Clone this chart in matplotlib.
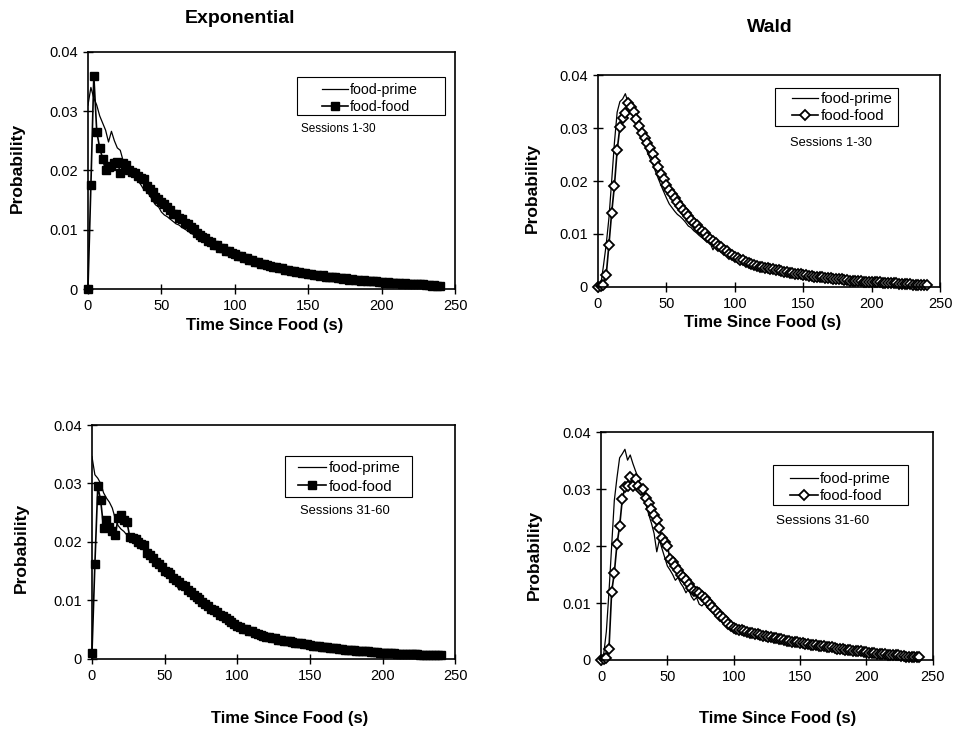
import matplotlib
matplotlib.use("Agg")
import matplotlib.pyplot as plt
from matplotlib.patches import Rectangle
from matplotlib.ticker import FuncFormatter

plt.rcParams['font.family'] = ['Liberation Sans', 'DejaVu Sans']

# time since food (s), 2 s bins
t = list(range(0, 242, 2))

# probabilities in units of 1e-4
exp_s1_prime = [310, 340, 322, 310, 292, 280, 268, 248, 266, 250,
                238, 234, 216, 206, 200, 194, 190, 183, 176, 168,
                165, 158, 150, 142, 139, 130, 125, 122, 118, 114,
                110, 108, 104, 101, 98, 94, 92, 88, 85, 83,
                80, 78, 75, 72, 70, 68, 65, 63, 61, 58,
                57, 56, 53, 52, 50, 48, 47, 45, 44, 42,
                41, 39, 38, 37, 35, 35, 33, 32, 31, 30,
                29, 29, 27, 27, 26, 25, 24, 23, 23, 22,
                21, 21, 20, 19, 19, 18, 17, 17, 16, 16,
                15, 15, 14, 14, 13, 13, 13, 12, 12, 11,
                11, 11, 10, 10, 10, 9, 9, 9, 8, 8,
                8, 8, 7, 7, 7, 7, 6, 6, 6, 6,
                5]
exp_s1_food = [0, 175, 360, 265, 238, 220, 200, 205, 207, 212,
               215, 196, 212, 209, 200, 198, 196, 190, 188, 186,
               174, 168, 163, 156, 152, 146, 143, 138, 133, 127,
               126, 120, 118, 112, 109, 104, 101, 95, 92, 88,
               86, 81, 80, 75, 74, 70, 69, 65, 64, 60,
               59, 56, 56, 52, 52, 49, 49, 46, 45, 43,
               42, 40, 39, 37, 37, 35, 35, 33, 33, 31,
               31, 29, 29, 27, 27, 25, 26, 24, 24, 22,
               23, 21, 21, 20, 20, 18, 19, 17, 18, 16,
               17, 15, 16, 14, 15, 13, 14, 13, 13, 12,
               12, 11, 12, 11, 11, 10, 10, 9, 10, 9,
               9, 8, 8, 8, 8, 7, 7, 6, 7, 6,
               5]

wald_s1_prime = [0, 3, 40, 80, 130, 200, 272, 330, 350, 355,
                 365, 348, 342, 332, 314, 300, 286, 270, 255, 243,
                 232, 218, 205, 192, 180, 168, 157, 150, 143, 137,
                 133, 128, 122, 115, 112, 106, 102, 97, 93, 89,
                 86, 82, 70, 80, 74, 71, 67, 63, 60, 57,
                 54, 52, 50, 47, 46, 44, 42, 40, 39, 37,
                 36, 35, 34, 33, 32, 31, 30, 29, 28, 27,
                 26, 25, 24, 24, 23, 22, 21, 21, 20, 19,
                 18, 18, 17, 17, 16, 15, 15, 14, 14, 13,
                 13, 12, 12, 11, 11, 11, 10, 10, 10, 9,
                 9, 9, 8, 8, 8, 8, 7, 7, 7, 6,
                 6, 6, 5, 5, 5, 4, 4, 4, 3, 3,
                 3]
wald_s1_food = [0, 1, 4, 22, 80, 140, 191, 258, 302, 320,
                328, 348, 340, 331, 318, 304, 291, 282, 271, 262,
                252, 238, 226, 213, 203, 192, 184, 176, 168, 160,
                152, 146, 139, 133, 127, 121, 116, 110, 106, 101,
                95, 91, 86, 83, 78, 75, 70, 67, 62, 60,
                56, 54, 51, 50, 47, 45, 43, 42, 40, 38,
                37, 36, 35, 34, 33, 32, 31, 30, 29, 28,
                27, 26, 25, 24, 24, 22, 22, 21, 20, 19,
                19, 18, 18, 17, 16, 16, 15, 15, 14, 14,
                13, 13, 12, 12, 11, 11, 11, 10, 10, 10,
                10, 9, 9, 9, 8, 8, 8, 7, 7, 7,
                6, 6, 6, 5, 5, 4, 4, 4, 3, 3,
                3]

exp_s2_prime = [346, 315, 309, 300, 284, 275, 268, 258, 240, 228,
                222, 218, 212, 208, 204, 201, 198, 195, 190, 186,
                181, 175, 168, 160, 155, 150, 146, 140, 135, 127,
                118, 122, 118, 112, 108, 103, 100, 95, 92, 88,
                84, 82, 79, 75, 73, 70, 66, 64, 61, 58,
                55, 53, 51, 49, 47, 45, 43, 42, 40, 39,
                37, 36, 35, 34, 33, 32, 31, 30, 29, 28,
                27, 26, 26, 25, 24, 23, 22, 22, 21, 20,
                20, 19, 19, 18, 17, 17, 16, 16, 15, 15,
                14, 14, 13, 13, 13, 12, 12, 11, 11, 11,
                10, 10, 10, 10, 9, 9, 9, 8, 8, 8,
                8, 7, 7, 7, 7, 6, 6, 6, 6, 5,
                5]
exp_s2_food = [10, 162, 295, 271, 224, 238, 225, 218, 212, 241,
               246, 238, 235, 209, 207, 205, 200, 196, 195, 181,
               178, 173, 166, 162, 158, 150, 148, 146, 138, 135,
               132, 127, 124, 118, 114, 110, 106, 102, 98, 94,
               90, 86, 83, 80, 76, 73, 70, 67, 63, 60,
               56, 55, 52, 51, 48, 47, 44, 43, 41, 40,
               38, 37, 36, 35, 33, 33, 31, 31, 30, 29,
               28, 27, 27, 25, 25, 24, 23, 22, 22, 21,
               20, 20, 19, 18, 18, 17, 17, 16, 16, 15,
               15, 14, 14, 13, 13, 13, 12, 12, 12, 11,
               11, 11, 10, 10, 10, 9, 9, 9, 9, 8,
               8, 8, 8, 7, 7, 7, 7, 6, 6, 6,
               6]

wald_s2_prime = [0, 10, 50, 120, 200, 280, 320, 355, 362, 370,
                 351, 360, 345, 332, 320, 302, 288, 272, 255, 240,
                 222, 190, 211, 195, 180, 165, 158, 150, 140, 145,
                 135, 128, 118, 125, 112, 105, 110, 98, 95, 100,
                 92, 88, 84, 80, 76, 72, 70, 66, 63, 60,
                 55, 54, 52, 51, 49, 48, 47, 45, 44, 43,
                 42, 41, 40, 39, 38, 37, 36, 35, 34, 33,
                 33, 32, 31, 30, 29, 29, 28, 27, 27, 26,
                 25, 25, 24, 23, 23, 22, 21, 21, 20, 19,
                 18, 18, 17, 17, 16, 15, 15, 14, 14, 13,
                 13, 12, 12, 11, 11, 10, 10, 9, 9, 8,
                 8, 8, 7, 7, 7, 6, 6, 6, 5, 5,
                 5]
wald_s2_food = [0, 1, 3, 20, 120, 153, 203, 235, 282, 303,
                305, 322, 305, 318, 306, 298, 300, 285, 275, 266,
                255, 245, 232, 215, 208, 200, 178, 172, 165, 158,
                150, 145, 140, 133, 126, 122, 119, 117, 113, 108,
                103, 98, 93, 88, 83, 78, 73, 68, 64, 60,
                56, 55, 53, 52, 51, 49, 48, 47, 46, 45,
                44, 42, 42, 40, 40, 38, 38, 36, 36, 35,
                34, 33, 32, 32, 31, 30, 29, 28, 28, 27,
                27, 26, 25, 24, 24, 23, 22, 22, 21, 20,
                19, 19, 18, 17, 17, 16, 16, 15, 15, 14,
                14, 13, 13, 12, 11, 11, 10, 10, 9, 9,
                8, 8, 8, 7, 7, 6, 6, 6, 6, 5,
                5]

fig = plt.figure(figsize=(9.56, 7.3), dpi=100)

# panel layout and legend placement (axes fractions)
panels = [
    dict(rect=[0.092, 0.604, 0.384, 0.325], prime=exp_s1_prime, food=exp_s1_food,
         marker='s', session='Sessions 1-30',
         box=(0.569, 0.734, 0.404, 0.161), leg=(0.637, 0.804), fs=10.2, hl=1.85, ls=0.24,
         sess=(0.681, 0.675), sfs=8.5, xlab=(0.482, -0.122), ylab=(-0.172, 0.51)),
    dict(rect=[0.6255, 0.607, 0.358, 0.290], prime=wald_s1_prime, food=wald_s1_food,
         marker='D', session='Sessions 1-30',
         box=(0.518, 0.759, 0.360, 0.180), leg=(0.566, 0.847), fs=10.8, hl=1.78, ls=0.17,
         sess=(0.681, 0.679), sfs=9.3, xlab=(0.482, -0.132), ylab=(-0.170, 0.467)),
    dict(rect=[0.0962, 0.0973, 0.380, 0.3205], prime=exp_s2_prime, food=exp_s2_food,
         marker='s', session='Sessions 31-60',
         box=(0.532, 0.692, 0.349, 0.176), leg=(0.567, 0.776), fs=10.8, hl=1.88, ls=0.3,
         sess=(0.697, 0.632), sfs=9.4, xlab=(0.545, -0.222), ylab=(-0.174, 0.474)),
    dict(rect=[0.6287, 0.0959, 0.347, 0.312], prime=wald_s2_prime, food=wald_s2_food,
         marker='D', session='Sessions 31-60',
         box=(0.519, 0.680, 0.407, 0.175), leg=(0.569, 0.757), fs=10.6, hl=1.89, ls=0.18,
         sess=(0.669, 0.610), sfs=9.7, xlab=(0.533, -0.224), ylab=(-0.178, 0.46)),
]

for p in panels:
    ax = fig.add_axes(p['rect'])
    prime = [v / 1e4 for v in p['prime']]
    food = [v / 1e4 for v in p['food']]
    ax.plot(t, prime, color='black', lw=0.9, label='food-prime')
    if p['marker'] == 's':
        ax.plot(t, food, color='black', lw=1.2, marker='s', markersize=6,
                mfc='black', mec='black', label='food-food', clip_on=False)
    else:
        ax.plot(t, food, color='black', lw=1.2, marker='D', markersize=4.7,
                mfc='white', mec='black', mew=1.3, label='food-food', clip_on=False)

    ax.set_xlim(0, 250)
    ax.set_ylim(0, 0.04)
    ax.set_xticks([0, 50, 100, 150, 200, 250])
    ax.set_yticks([0, 0.01, 0.02, 0.03, 0.04])
    ax.yaxis.set_major_formatter(FuncFormatter(lambda v, pos: '0' if v == 0 else f'{v:.2f}'))
    ax.tick_params(direction='inout', length=7, width=1.0, labelsize=10.5, pad=4)
    for s in ax.spines.values():
        s.set_linewidth(1.2)

    ax.set_xlabel('Time Since Food (s)', fontsize=12, fontweight='bold')
    ax.set_ylabel('Probability', fontsize=12.5, fontweight='bold')
    ax.xaxis.set_label_coords(*p['xlab'])
    ax.yaxis.set_label_coords(*p['ylab'])

    bx, by, bw, bh = p['box']
    ax.add_patch(Rectangle((bx, by), bw, bh, transform=ax.transAxes, fill=False,
                           ec='black', lw=0.8, zorder=5))
    ax.legend(loc='center left', bbox_to_anchor=p['leg'], frameon=False,
              fontsize=p['fs'], handlelength=p['hl'], handletextpad=0.15,
              borderpad=0, borderaxespad=0, labelspacing=p['ls'], numpoints=1)
    ax.text(p['sess'][0], p['sess'][1], p['session'], transform=ax.transAxes,
            ha='center', va='center', fontsize=p['sfs'])

fig.text(0.251, 0.975, 'Exponential', ha='center', va='center', fontsize=14, fontweight='bold')
fig.text(0.805, 0.962, 'Wald', ha='center', va='center', fontsize=14, fontweight='bold')

fig.savefig('out.png', dpi=100)
